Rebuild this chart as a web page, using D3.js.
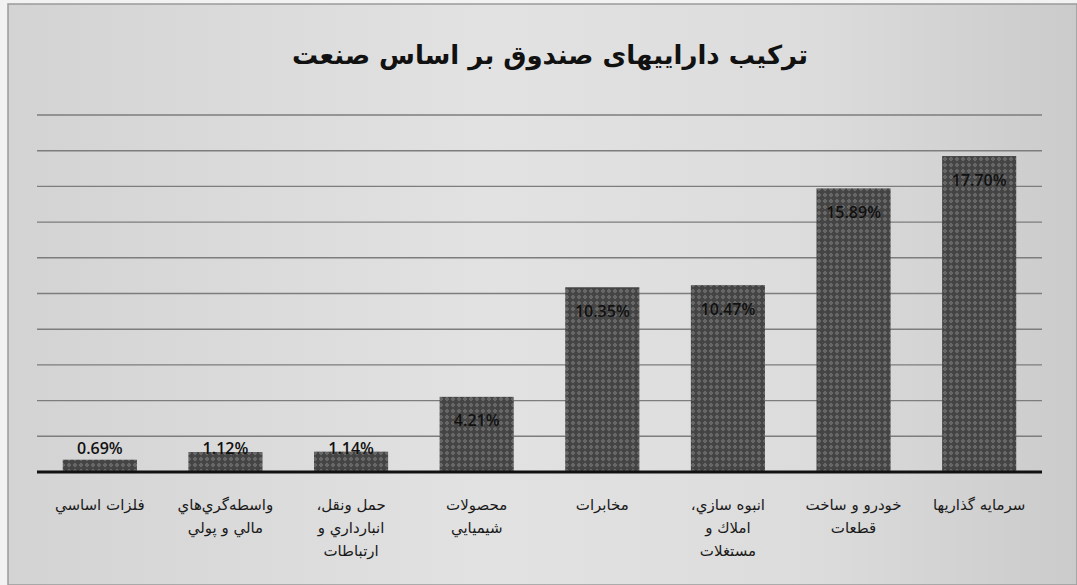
<!DOCTYPE html>
<html>
<head>
<meta charset="utf-8">
<script src="https://cdn.jsdelivr.net/npm/d3@7"></script>
<style>
  body { margin: 0; background: #f4f4f4; }
  svg { display: block; }
</style>
</head>
<body>
<svg id="chart" width="1077" height="585"></svg>
<script>
// Daten (von links nach rechts)
const categories = [
  ["فلزات اساسي"],
  ["واسطه‌گري‌هاي", "مالي و پولي"],
  ["حمل ونقل،", "انبارداري و", "ارتباطات"],
  ["محصولات", "شيميايي"],
  ["مخابرات"],
  ["انبوه سازي،", "املاك و", "مستغلات"],
  ["خودرو و ساخت", "قطعات"],
  ["سرمايه گذاريها"]
];
const values = [0.69, 1.12, 1.14, 4.21, 10.35, 10.47, 15.89, 17.70];
const valueLabels = ["0.69%", "1.12%", "1.14%", "4.21%", "10.35%", "10.47%", "15.89%", "17.70%"];
const gridTicks = [2, 4, 6, 8, 10, 12, 14, 16, 18, 20];
const title = "ترکیب داراییهای صندوق بر اساس صنعت";

const svg = d3.select("#chart"),
  W = +svg.attr("width"),
  H = +svg.attr("height");

const plot = {left: 37, right: 1042, top: 115, bottom: 472};

// Hintergrund (eingescanntes Papier)
const defs = svg.append("defs");
const bg = defs.append("linearGradient").attr("id", "paper")
  .attr("x1", 0).attr("x2", 1).attr("y1", 0).attr("y2", 0);
bg.append("stop").attr("offset", "0%").attr("stop-color", "#d3d3d3");
bg.append("stop").attr("offset", "45%").attr("stop-color", "#e2e2e2");
bg.append("stop").attr("offset", "75%").attr("stop-color", "#dcdcdc");
bg.append("stop").attr("offset", "100%").attr("stop-color", "#cbcbcb");

// Schraffur der Balken
const pat = defs.append("pattern").attr("id", "hatch")
  .attr("patternUnits", "userSpaceOnUse")
  .attr("width", 6).attr("height", 6);
pat.append("rect").attr("width", 6).attr("height", 6).attr("fill", "#444");
pat.append("path").attr("d", "M3 0.8 L5.2 3 L3 5.2 L0.8 3 Z").attr("fill", "#767676");
pat.append("rect").attr("x", 2.5).attr("y", 2.5).attr("width", 1).attr("height", 1).attr("fill", "#363636");

svg.append("rect").attr("width", W).attr("height", H).attr("fill", "#f2f2f2");
svg.append("rect")
  .attr("x", 8).attr("y", 4).attr("width", W - 8).attr("height", H - 4)
  .attr("fill", "url(#paper)")
  .attr("stroke", "#9a9a9a").attr("stroke-width", 1.5);

// Skalen
const x = d3.scaleBand()
  .domain(d3.range(values.length))
  .range([plot.left, plot.right])
  .paddingInner(0.41)
  .paddingOuter(0.205);

const y = d3.scaleLinear()
  .domain([0, 20])
  .range([plot.bottom, plot.top]);

// Gitterlinien
svg.append("g").selectAll("line")
  .data(gridTicks)
  .enter().append("line")
  .attr("x1", plot.left).attr("x2", plot.right)
  .attr("y1", d => y(d)).attr("y2", d => y(d))
  .attr("stroke", "#7d7d7d")
  .attr("stroke-width", 1.4);

// Balken
svg.append("g").selectAll("rect")
  .data(values)
  .enter().append("rect")
  .attr("x", (d, i) => x(i))
  .attr("y", d => y(d))
  .attr("width", x.bandwidth())
  .attr("height", d => y(0) - y(d))
  .attr("fill", "url(#hatch)");

// Grundlinie
svg.append("line")
  .attr("x1", plot.left).attr("x2", plot.right)
  .attr("y1", y(0)).attr("y2", y(0))
  .attr("stroke", "#111").attr("stroke-width", 3);

// Beschriftung der Werte (innen oben, nie unter die Grundlinie)
svg.append("g").selectAll("text")
  .data(values)
  .enter().append("text")
  .attr("x", (d, i) => x(i) + x.bandwidth() / 2)
  .attr("y", d => Math.min(y(d) + 24, y(0) - 24))
  .attr("dy", "0.35em")
  .attr("text-anchor", "middle")
  .attr("font-family", "'Open Sans', 'DejaVu Sans', sans-serif")
  .attr("font-size", 16)
  .attr("font-weight", 600)
  .attr("fill", "#111")
  .text((d, i) => valueLabels[i]);

// Kategorien
const cat = svg.append("g").selectAll("text")
  .data(categories)
  .enter().append("text")
  .attr("x", (d, i) => x(i) + x.bandwidth() / 2)
  .attr("y", 505)
  .attr("text-anchor", "middle")
  .attr("direction", "rtl")
  .attr("font-family", "'DejaVu Sans', sans-serif")
  .attr("font-size", 15)
  .attr("fill", "#1a1a1a");
cat.each(function(lines) {
  const t = d3.select(this);
  lines.forEach(function(line, k) {
    t.append("tspan")
      .attr("x", t.attr("x"))
      .attr("dy", k === 0 ? "0.35em" : 23)
      .text(line);
  });
});

// Titel
svg.append("text")
  .attr("x", 550).attr("y", 55)
  .attr("dy", "0.35em")
  .attr("text-anchor", "middle")
  .attr("direction", "rtl")
  .attr("font-family", "'DejaVu Sans', sans-serif")
  .attr("font-weight", "bold")
  .attr("font-size", 26)
  .attr("fill", "#111")
  .text(title);
</script>
</body>
</html>
